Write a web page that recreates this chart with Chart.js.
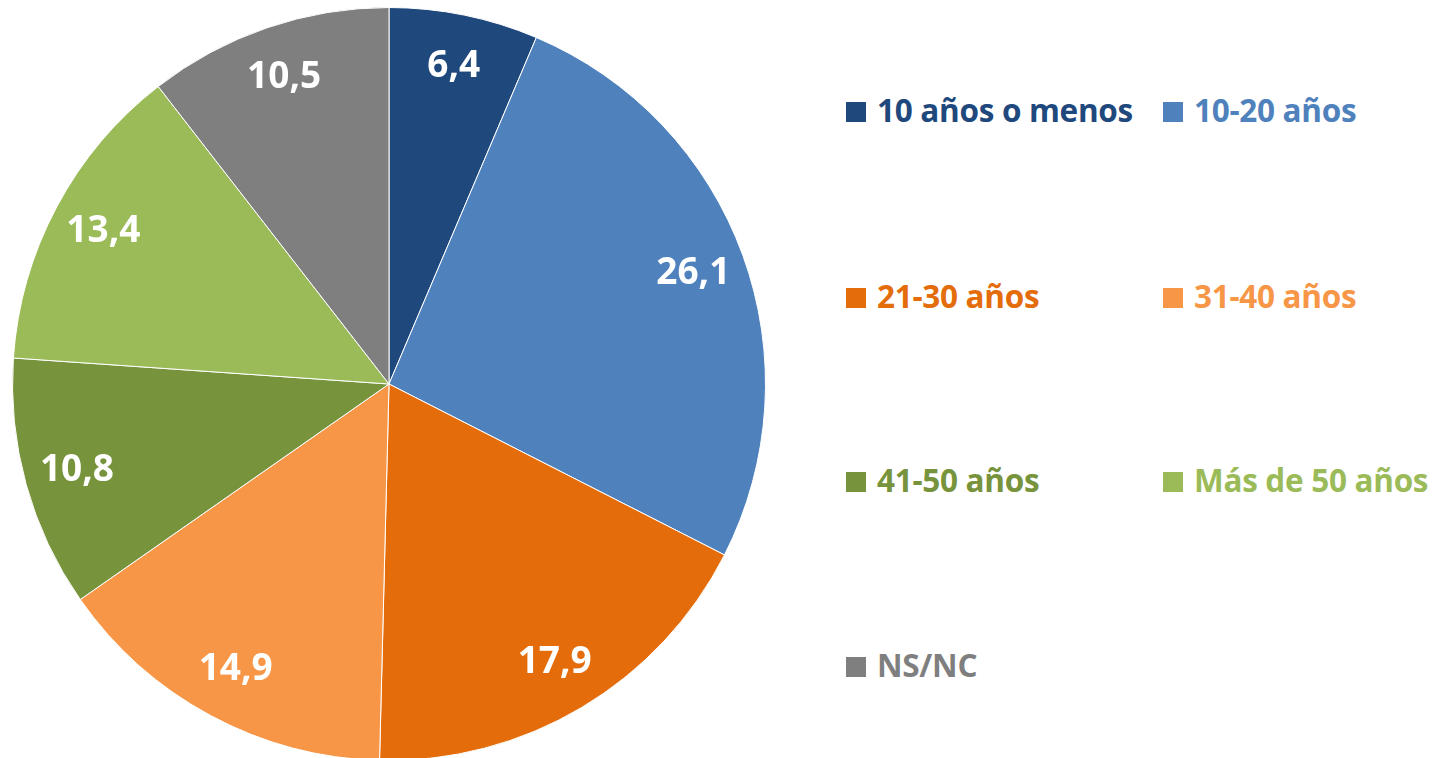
<!DOCTYPE html>
<html lang="es">
<head>
    <meta charset="UTF-8" />
    <title>Edad</title>
    <script src="https://cdn.jsdelivr.net/npm/chart.js@4/dist/chart.umd.min.js"></script>
    <style>
        html, body { margin: 0; padding: 0; background: #fff; overflow: hidden; }
        body { width: 1439px; height: 758px; position: relative; font-family: "Open Sans", sans-serif; }
        #pieBox { position: absolute; left: 12px; top: 7px; width: 754px; height: 754px; }
        .leg { position: absolute; font-weight: bold; font-size: 31.5px; line-height: 36px; white-space: nowrap; letter-spacing: -0.3px; }
        .leg span.sw { display: inline-block; width: 20px; height: 20px; margin-right: 11px; vertical-align: 0px; }
    </style>
</head>
<body>
    <div id="pieBox"><canvas id="pieChart"></canvas></div>
    <div id="legend"></div>

    <script>
        const categorias = ['10 años o menos', '10-20 años', '21-30 años', '31-40 años', '41-50 años', 'Más de 50 años', 'NS/NC'];
        const valores = [6.4, 26.1, 17.9, 14.9, 10.8, 13.4, 10.5];
        const colores = ['#1F497D', '#4F81BD', '#E46C0A', '#F79646', '#77933C', '#9BBB59', '#7F7F7F'];

        // Etiquetas de valores dentro de cada sector
        const etiquetas = {
            id: 'etiquetas',
            afterDatasetsDraw(chart) {
                const ctx = chart.ctx;
                const meta = chart.getDatasetMeta(0);
                ctx.save();
                ctx.font = 'bold 37px "Open Sans"';
                ctx.fillStyle = '#fff';
                ctx.textAlign = 'center';
                ctx.textBaseline = 'middle';
                meta.data.forEach((arc, i) => {
                    const p = arc.getProps(['x', 'y', 'startAngle', 'endAngle', 'outerRadius'], true);
                    const a = (p.startAngle + p.endAngle) / 2;
                    const r = p.outerRadius * 0.86;
                    ctx.fillText(valores[i].toFixed(1).replace('.', ','), p.x + Math.cos(a) * r, p.y + Math.sin(a) * r);
                });
                ctx.restore();
            }
        };

        new Chart(document.getElementById('pieChart'), {
            type: 'pie',
            data: {
                labels: categorias,
                datasets: [{
                    data: valores,
                    backgroundColor: colores,
                    borderColor: '#ffffff',
                    borderWidth: 1
                }]
            },
            options: {
                responsive: true,
                maintainAspectRatio: false,
                animation: false,
                plugins: {
                    legend: { display: false },
                    tooltip: { enabled: false }
                }
            },
            plugins: [etiquetas]
        });

        // Leyenda en dos columnas
        const legX = [846, 1163];
        const legY = [92, 278, 462, 647];
        const leg = document.getElementById('legend');
        categorias.forEach((c, i) => {
            const d = document.createElement('div');
            d.className = 'leg';
            d.style.left = legX[i % 2] + 'px';
            d.style.top = legY[Math.floor(i / 2)] + 'px';
            d.style.color = colores[i];
            d.innerHTML = '<span class="sw" style="background:' + colores[i] + '"></span>' + c;
            leg.appendChild(d);
        });
    </script>
</body>
</html>
